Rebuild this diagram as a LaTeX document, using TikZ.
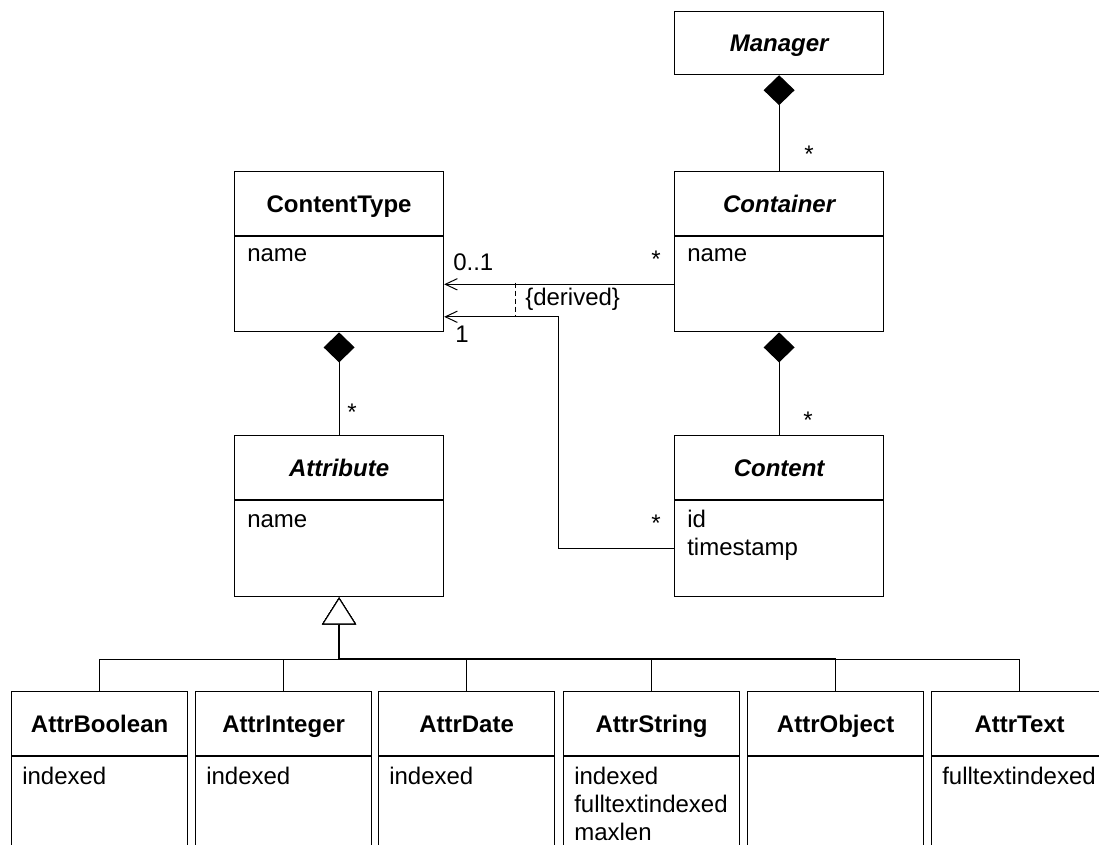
\documentclass[tikz,border=0pt]{standalone}
\usepackage{fontspec}
\setmainfont{Liberation Sans}
\usetikzlibrary{arrows.meta,calc}

% diagram text size: 24px type on a 28px line
\newcommand{\dfont}{\fontsize{18}{21}\selectfont}

\tikzset{
  x=0.75pt, y=-0.75pt,
  title/.style={draw, line width=0.9pt, anchor=north west, inner sep=0pt,
    minimum width=156.75pt, minimum height=48pt,
    text height=12.9pt, text depth=0pt, font=\dfont\bfseries},
  abstract/.style={title, font=\dfont\bfseries\itshape},
  attrs/.style={draw, line width=0.9pt, anchor=north west, inner sep=0pt,
    minimum width=156.75pt, minimum height=71.25pt},
  narrow/.style={minimum width=132pt},
  item/.style={anchor=base west, inner sep=0pt, font=\dfont},
  mult/.style={anchor=base west, inner sep=0pt, font=\dfont},
  link/.style={line width=0.75pt},
  comp/.style={link, {Diamond[length=22.5pt,width=23.25pt]}-},
  nav/.style={link, -{Straight Barb[length=9pt,width=8.5pt]}},
  gen/.style={link, -{Triangle[open,length=20.25pt,width=25.5pt,fill=white]}},
}

\begin{document}
\begin{tikzpicture}
\useasboundingbox (0,0) rectangle (1099,845);
\clip (0,0) rectangle (1099,845);

% ---- upper classes ----
\node[abstract, minimum height=47.25pt] (mgr) at (674,11) {Manager};

\node[title] (ct) at (234,171) {ContentType};
\node[attrs] (ct-a) at (ct.south west) {};
\node[item] (ct-n) at ($(ct-a.north west)+(13,25)$) {name};

\node[abstract] (cn) at (674,171) {Container};
\node[attrs] (cn-a) at (cn.south west) {};
\node[item] (cn-n) at ($(cn-a.north west)+(13,25)$) {name};

\node[abstract] (at) at (234,435) {Attribute};
\node[attrs, minimum height=72pt] (at-a) at (at.south west) {};
\node[item] (at-n) at ($(at-a.north west)+(13,27)$) {name};

\node[abstract] (co) at (674,435) {Content};
\node[attrs, minimum height=72pt] (co-a) at (co.south west) {};
\node[item] (co-n1) at ($(co-a.north west)+(13,27)$) {id};
\node[item] (co-n2) at ($(co-a.north west)+(13,55)$) {timestamp};

% ---- attribute subclasses ----
\foreach \nm/\lbl/\xx in {ab/AttrBoolean/11, ai/AttrInteger/195, ad/AttrDate/378,
                          as/AttrString/563, ao/AttrObject/747, ax/AttrText/931}{
  \node[title, narrow] (\nm) at (\xx,691) {\lbl};
  \node[attrs, narrow, minimum height=112.5pt] (\nm-a) at (\nm.south west) {};
}
\node[item] (ab-n) at ($(ab-a.north west)+(11,28)$) {indexed};
\node[item] (ai-n) at ($(ai-a.north west)+(11,28)$) {indexed};
\node[item] (ad-n) at ($(ad-a.north west)+(11,28)$) {indexed};
\node[item] (as-n1) at ($(as-a.north west)+(11,28)$) {indexed};
\node[item] (as-n2) at ($(as-a.north west)+(11,56)$) {fulltextindexed};
\node[item] (as-n3) at ($(as-a.north west)+(11,84)$) {maxlen};
\node[item] (ax-n) at ($(ax-a.north west)+(11,28)$) {fulltextindexed};

% ---- compositions ----
\draw[comp] (mgr.south) -- (cn.north);
\node[mult] (m1) at (804,163) {*};
\draw[comp] (ct-a.south) -- (at.north);
\node[mult] (m2) at (347,420) {*};
\draw[comp] (cn-a.south) -- (co.north);
\node[mult] (m3) at (803,428) {*};

% ---- navigable associations to ContentType ----
\draw[nav] (cn-a.west) -- (ct-a.east);
\node[mult] (m4) at (453,270) {0..1};
\node[mult] (m5) at (651,267) {*};

\coordinate (ct-in) at ($(ct-a.east)+(0,32.5)$);
\draw[nav] (co-a.west) -- ++(-116,0) |- (ct-in);
\node[mult] (m6) at (455,342) {1};
\node[mult] (m7) at (651,531) {*};

% derived constraint between the two associations
\coordinate (d1) at (515,282.5);
\coordinate (d2) at (515,315);
\draw[link, dash pattern=on 4pt off 2pt] (d1) -- (d2);
\node[mult] (der) at (525,305) {\{derived\}};

% ---- generalization ----
\coordinate (bus) at ($(at-a.south)+(0,62)$);
\foreach \nm in {ab,ai,ad,as,ao,ax}{
  \draw[gen] (\nm.north) |- (bus) -- (at-a.south);
}
% shared trunk of the generalization tree, where the lines overlap
\draw[line width=1.5pt] ($(at-a.south)+(0,28)$) -- (bus) -- (ao.north |- bus);
\end{tikzpicture}
\end{document}
